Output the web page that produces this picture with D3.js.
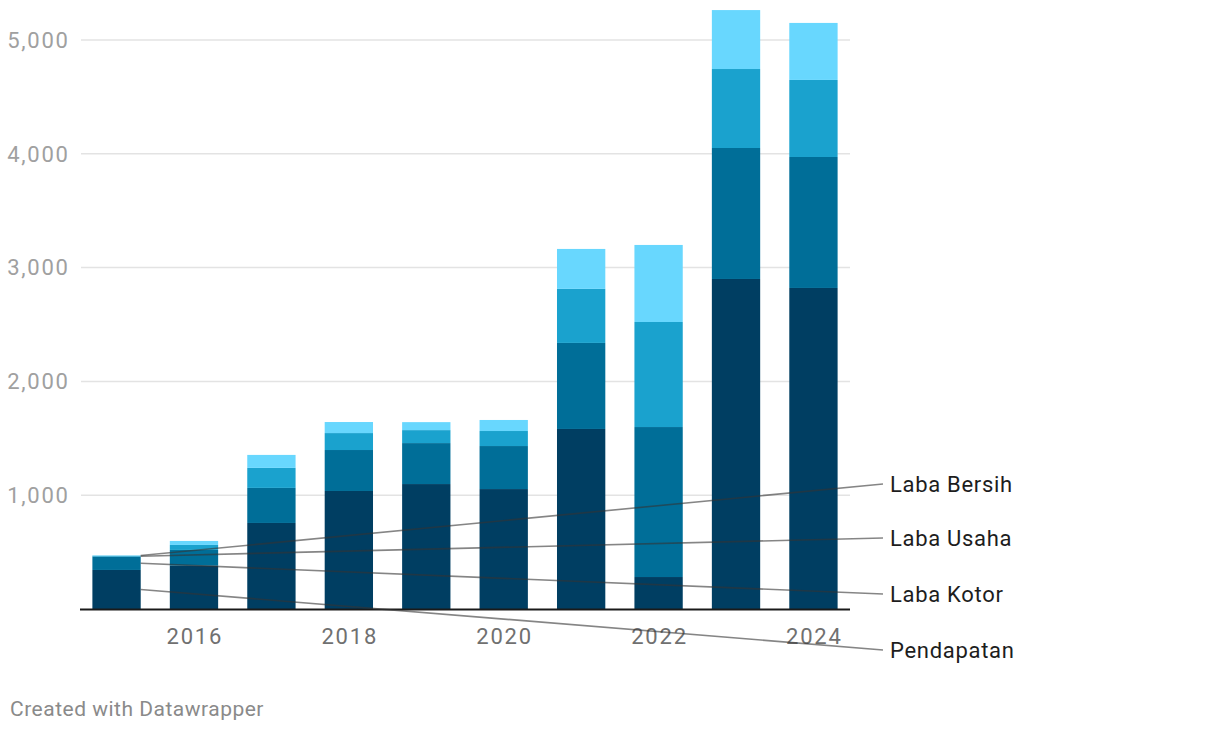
<!DOCTYPE html>
<html><head><meta charset="utf-8">
<script src="https://cdn.jsdelivr.net/npm/d3@7"></script>
<style>body{margin:0;background:#fff;font-family:Roboto,"Noto Sans",sans-serif;}</style>
</head><body><svg id="c" width="1220" height="732"></svg>
<script>
const years = [2015,2016,2017,2018,2019,2020,2021,2022,2023,2024];
const seriesNames = ["Pendapatan","Laba Kotor","Laba Usaha","Laba Bersih"];
const pendapatan = [343,381,756,1037,1098,1054,1582,281,2900,2821];
const labaKotor  = [117,138,308,360,360,378,756,1318,1151,1151];
const labaUsaha  = [8,44,176,149,114,132,475,923,694,677];
const labaBersih = [3,35,114,97,70,97,351,677,518,501];
const yTicks = [1000,2000,3000,4000,5000];
const xTickYears = [2016,2018,2020,2022,2024];
const colors = ["#003e62","#006e98","#1aa2ce","#68d7fe"];

const rows = years.map((y,i)=>({year:y,"Pendapatan":pendapatan[i],"Laba Kotor":labaKotor[i],"Laba Usaha":labaUsaha[i],"Laba Bersih":labaBersih[i]}));
const stack = d3.stack().keys(seriesNames)(rows);

const svg = d3.select("#c");
const x = d3.scaleBand().domain(years).range([80,850]).paddingInner(0.376).paddingOuter(0.16);
const y = d3.scaleLinear().domain([0,5000]).range([609,40]);

// grid
const grid = svg.append("g");
grid.selectAll("line").data(yTicks).join("line")
  .attr("x1",81).attr("x2",850).attr("y1",d=>y(d)).attr("y2",d=>y(d))
  .attr("stroke","#e3e3e3").attr("stroke-width",1.5);
grid.selectAll("text").data(yTicks).join("text")
  .attr("x",69.7).attr("y",d=>y(d)).attr("dy","0.35em").attr("text-anchor","end")
  .attr("letter-spacing",1.75)
  .attr("fill","#a0a0a0").attr("font-size",22).text(d=>d3.format(",")(d));

// bars
svg.append("g").selectAll("g").data(stack).join("g")
  .attr("fill",(d,i)=>colors[i])
  .selectAll("rect").data(d=>d).join("rect")
  .attr("x",d=>x(d.data.year)).attr("width",x.bandwidth())
  .attr("y",d=>y(d[1])).attr("height",d=>y(d[0])-y(d[1]));

// baseline
svg.append("line").attr("x1",80).attr("x2",850).attr("y1",y(0)+0.5).attr("y2",y(0)+0.5)
  .attr("stroke","#1a1a1a").attr("stroke-width",2);

// x labels
svg.append("g").selectAll("text").data(xTickYears).join("text")
  .attr("x",d=>x(d)+x.bandwidth()/2+0.9).attr("y",644).attr("text-anchor","middle")
  .attr("letter-spacing",1.8)
  .attr("fill","#707070").attr("font-size",22).text(d=>d);

// legend lines & labels
const labelY = [650,594,538,484];
const lg = svg.append("g");
stack.forEach((s,i)=>{
  const d = s[0];
  const x0 = x(years[0]) + x.bandwidth();
  const y0 = (y(d[0])+y(d[1]))/2;
  lg.append("line").attr("x1",x0).attr("y1",y0).attr("x2",883).attr("y2",labelY[i])
    .attr("stroke","#333").attr("stroke-opacity",0.6).attr("stroke-width",1.6);
  lg.append("text").attr("x",890).attr("y",labelY[i]).attr("dy","0.35em")
    .attr("letter-spacing",0.7)
    .attr("fill","#1d1d1d").attr("font-size",22).text(seriesNames[i]);
});

svg.append("text").attr("x",10).attr("y",716).attr("fill","#8a8a8a").attr("font-size",21)
  .attr("letter-spacing",0.5)
  .text("Created with Datawrapper");
</script></body></html>
